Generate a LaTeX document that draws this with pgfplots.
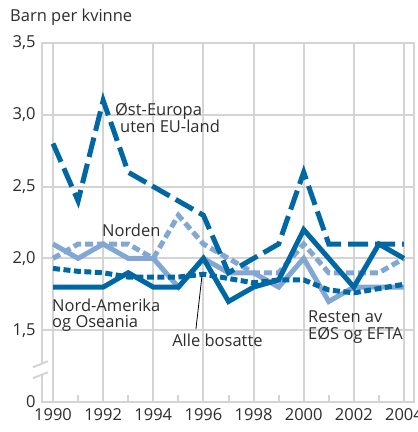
\documentclass[border=0pt]{standalone}
\usepackage{pgfplots}
\pgfplotsset{compat=1.18}
\usepackage{fontspec}
\setmainfont{Open Sans}
\definecolor{dblue}{RGB}{0,103,165}
\definecolor{lblue}{RGB}{130,167,210}
\definecolor{gridg}{RGB}{212,212,212}
\definecolor{txt}{RGB}{45,45,45}
\newcommand{\lf}{\fontsize{16.5bp}{18.5bp}\selectfont}
\begin{document}
\begin{tikzpicture}[x=1bp,y=1bp]
\useasboundingbox (0,0) rectangle (418,432);
\node[anchor=base west, text=txt, font=\lf, inner sep=0] at (10,410) {Barn per kvinne};
\begin{axis}[
 at={(42bp,30bp)}, anchor=south west, scale only axis, width=372bp, height=359bp,
 xmin=1989.56, xmax=2004.4, ymin=1, ymax=3.5,
 clip=false,
 axis line style={gridg, line width=2bp},
 xtick={1990,1992,...,2004}, xticklabels={1990,1992,1994,1996,1998,2000,2002,2004},
 minor xtick={1991,1993,...,2003},
 ytick={1,1.5,2,2.5,3,3.5}, yticklabels={0,{1,5},{2,0},{2,5},{3,0},{3,5}},
 grid=major, major grid style={gridg, line width=2bp},
 major tick length=0pt, minor tick length=7bp, tick align=inside,
 xtick pos=bottom, ytick pos=left, minor tick style={gridg,line width=2bp},
 ticklabel style={font=\lf, text=txt},
 /pgf/number format/assume math mode=true,
 xticklabel style={yshift=-3bp},
 yticklabel style={xshift=-3bp},
 every axis plot/.append style={no markers, line width=5bp},
]
\addplot[lblue, dash pattern=on 8bp off 4bp] coordinates {
(1990,2.0)(1991,2.1)(1992,2.1)(1993,2.1)(1994,2.0)(1995,2.3)(1996,2.1)(1997,2.0)
(1998,1.9)(1999,1.9)(2000,2.1)(2001,1.9)(2002,1.9)(2003,1.9)(2004,2.0)};
\addplot[lblue] coordinates {
(1990,2.1)(1991,2.0)(1992,2.1)(1993,2.0)(1994,2.0)(1995,1.8)(1996,2.0)(1997,1.9)
(1998,1.9)(1999,1.8)(2000,2.0)(2001,1.7)(2002,1.8)(2003,1.8)(2004,1.8)};
\addplot[dblue, dash pattern=on 7bp off 3.5bp] coordinates {
(1990,1.93)(1991,1.91)(1992,1.90)(1993,1.87)(1994,1.87)(1995,1.87)(1996,1.89)(1997,1.86)
(1998,1.83)(1999,1.85)(2000,1.85)(2001,1.78)(2002,1.76)(2003,1.79)(2004,1.82)};
\addplot[dblue] coordinates {
(1990,1.8)(1991,1.8)(1992,1.8)(1993,1.9)(1994,1.8)(1995,1.8)(1996,2.0)(1997,1.7)
(1998,1.8)(1999,1.85)(2000,2.2)(2001,2.0)(2002,1.8)(2003,2.1)(2004,2.0)};
\addplot[dblue, dash pattern=on 20bp off 7bp] coordinates {
(1990,2.8)(1991,2.4)(1992,3.1)(1993,2.6)(1994,2.5)(1995,2.4)(1996,2.3)(1997,1.9)
(1998,2.0)(1999,2.1)(2000,2.6)(2001,2.1)(2002,2.1)(2003,2.1)(2004,2.1)};
\node[anchor=base west, text=txt, font=\lf, inner sep=0] at (axis cs:1992.47,2.998) {Øst-Europa};
\node[anchor=base west, text=txt, font=\lf, inner sep=0] at (axis cs:1992.67,2.88) {uten EU-land};
\node[anchor=base west, text=txt, font=\lf, inner sep=0] at (axis cs:1991.95,2.155) {Norden};
\node[anchor=base west, text=txt, font=\lf, inner sep=0] at (axis cs:1989.96,1.632) {Nord-Amerika};
\node[anchor=base west, text=txt, font=\lf, inner sep=0] at (axis cs:1989.96,1.516) {og Oseania};
\node[anchor=base west, text=txt, font=\lf, inner sep=0] at (axis cs:1994.75,1.389) {Alle bosatte};
\node[anchor=base west, text=txt, font=\lf, inner sep=0] at (axis cs:2000.17,1.556) {Resten av};
\node[anchor=base west, text=txt, font=\lf, inner sep=0] at (axis cs:2000.17,1.437) {EØS og EFTA};
\draw[black, line width=0.8bp] (axis cs:1995.94,1.876) -- (axis cs:1995.70,1.507);
\coordinate (w1) at (axis cs:1989.50,1.19);
\coordinate (w2) at (axis cs:1989.62,1.267);
\coordinate (b1) at (axis cs:1989.2,1.242);
\coordinate (b2) at (axis cs:1989.8,1.284);
\coordinate (b3) at (axis cs:1989.2,1.166);
\coordinate (b4) at (axis cs:1989.8,1.207);
\end{axis}
\fill[white] (w1) rectangle (w2);
\draw[gridg, line width=2bp] (b1) -- (b2);
\draw[gridg, line width=2bp] (b3) -- (b4);
\end{tikzpicture}
\end{document}
